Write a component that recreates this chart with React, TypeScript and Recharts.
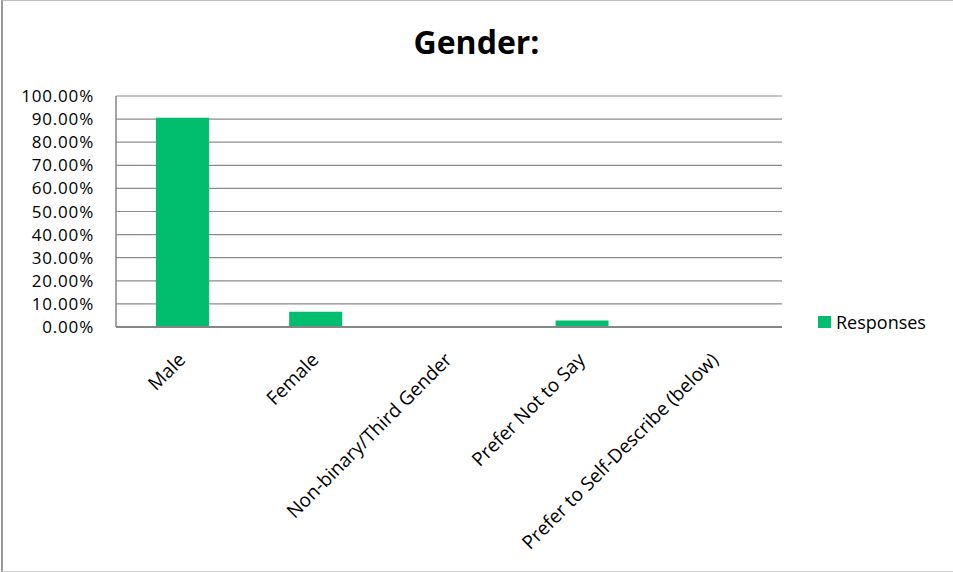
import { BarChart, Bar, XAxis, YAxis, CartesianGrid } from "recharts";

// ---- Data ----
const categories: string[] = [
  "Male",
  "Female",
  "Non-binary/Third Gender",
  "Prefer Not to Say",
  "Prefer to Self-Describe (below)",
];
const responses: number[] = [0.9057, 0.066, 0, 0.0283, 0];
const yTicks: number[] = [0, 0.1, 0.2, 0.3, 0.4, 0.5, 0.6, 0.7, 0.8, 0.9, 1];

const data = categories.map((name, i) => ({ name, Responses: responses[i] }));

const FONT = "'Open Sans', sans-serif";
const GREEN = "#00BE6E";

// rotated category label, end of text hangs just right of the tick
const XTick = (props: any) => {
  const { x, y, payload } = props;
  const tx = x + 4;
  const ty = y + 26;
  return (
    <text
      x={tx}
      y={ty}
      textAnchor="end"
      fill="#000"
      fontSize={19}
      fontFamily={FONT}
      transform={`rotate(-45, ${tx}, ${ty})`}
    >
      {payload.value}
    </text>
  );
};

export default function App() {
  return (
    <div
      style={{
        position: "absolute",
        left: 1,
        top: 0,
        width: 960,
        height: 572,
        borderLeft: "2px solid #9a9a9a",
        borderTop: "1px solid #bdbdbd",
        borderBottom: "1px solid #d0d0d0",
        background: "#fff",
        boxSizing: "border-box",
      }}
    >
      <div
        style={{
          position: "absolute",
          left: -3,
          top: 19,
          width: 953,
          textAlign: "center",
          fontFamily: FONT,
          fontWeight: 700,
          fontSize: 32,
          color: "#000",
        }}
      >
        Gender:
      </div>
      <div style={{ position: "absolute", left: -3, top: 0 }}>
        <BarChart
          width={953}
          height={572}
          data={data}
          margin={{ top: 95, right: 171, bottom: 0, left: 0 }}
          barCategoryGap="30%"
        >
          <CartesianGrid vertical={false} stroke="#8c8c8c" strokeWidth={1.2} />
          <XAxis
            dataKey="name"
            interval={0}
            height={246}
            tick={<XTick />}
            tickLine={false}
            axisLine={{ stroke: "#868686", strokeWidth: 2 }}
          />
          <YAxis
            domain={[0, 1]}
            ticks={yTicks}
            interval={0}
            width={116}
            tickSize={0}
            tickMargin={22}
            tickLine={false}
            axisLine={{ stroke: "#868686", strokeWidth: 1.5 }}
            tickFormatter={(v: number) => `${(v * 100).toFixed(2)}%`}
            tick={{ fontSize: 17, fill: "#000", fontFamily: FONT, letterSpacing: 0.8 }}
          />
          <Bar dataKey="Responses" fill={GREEN} isAnimationActive={false} />
        </BarChart>
      </div>
      {/* legend */}
      <div
        style={{
          position: "absolute",
          left: 815,
          top: 309,
          display: "flex",
          alignItems: "center",
          fontFamily: FONT,
          fontSize: 18,
          color: "#000",
        }}
      >
        <span style={{ width: 13, height: 12, background: GREEN, display: "inline-block", marginRight: 5 }} />
        <span>Responses</span>
      </div>
    </div>
  );
}
